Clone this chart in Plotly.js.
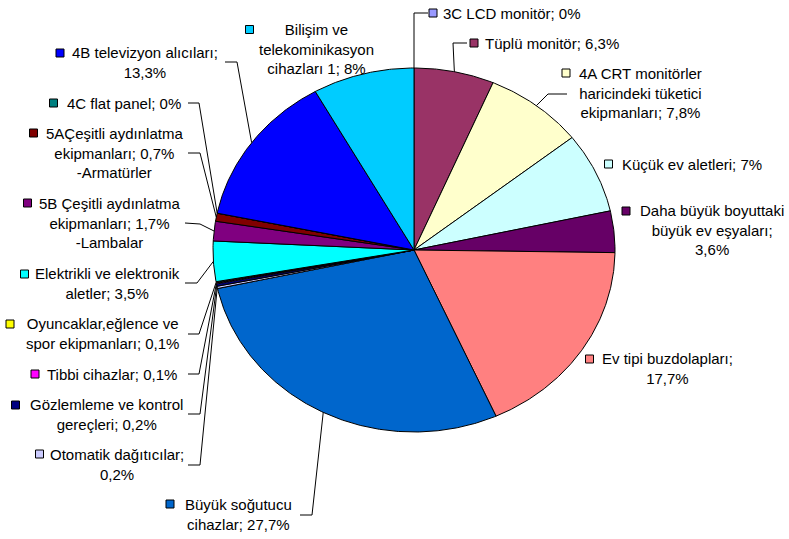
<!DOCTYPE html>
<html><head><meta charset="utf-8">
<script src="https://cdn.plot.ly/plotly-3.0.1.min.js"></script>
<style>html,body{margin:0;padding:0;background:#fff}</style>
</head><body><div id="chart" style="width:789px;height:539px"></div>
<script>
// ---- data ----
const categories = ["3C LCD monitör","Tüplü monitör","4A CRT monitörler haricindeki tüketici ekipmanları","Küçük ev aletleri","Daha büyük boyuttaki büyük ev eşyaları","Ev tipi buzdolapları","Büyük soğutucu cihazlar","Otomatik dağıtıcılar","Gözlemleme ve kontrol gereçleri","Tibbi cihazlar","Oyuncaklar,eğlence ve spor ekipmanları","Elektrikli ve elektronik aletler","5B Çeşitli aydınlatma ekipmanları -Lambalar","5AÇeşitli aydınlatma ekipmanları -Armatürler","4C flat panel","4B televizyon alıcıları","Bilişim ve telekominikasyon cihazları 1"];
const values = [0, 6.3, 7.8, 7, 3.6, 17.7, 27.7, 0.2, 0.2, 0.1, 0.1, 3.5, 1.7, 0.7, 0, 13.3, 8];
const labelTexts = [
  "3C LCD monitör; 0%",
  "Tüplü monitör; 6,3%",
  "4A CRT monitörler<br>haricindeki tüketici<br>ekipmanları; 7,8%",
  "Küçük ev aletleri; 7%",
  "Daha büyük boyuttaki<br>büyük ev eşyaları;<br>3,6%",
  "Ev tipi buzdolapları;<br>17,7%",
  "Büyük soğutucu<br>cihazlar; 27,7%",
  "Otomatik dağıtıcılar;<br>0,2%",
  "Gözlemleme ve kontrol<br>gereçleri; 0,2%",
  "Tibbi cihazlar; 0,1%",
  "Oyuncaklar,eğlence ve<br>spor ekipmanları; 0,1%",
  "Elektrikli ve elektronik<br>aletler; 3,5%",
  "5B Çeşitli aydınlatma<br>ekipmanları; 1,7%<br>-Lambalar",
  "5AÇeşitli aydınlatma<br>ekipmanları; 0,7%<br>-Armatürler",
  "4C flat panel; 0%",
  "4B televizyon alıcıları;<br>13,3%",
  "Bilişim ve<br>telekominikasyon<br>cihazları 1; 8%"
];
const colors = ["#9999FF","#993366","#FFFFCC","#CCFFFF","#660066","#FF8080","#0066CC","#CCCCFF","#000080","#FF00FF","#FFFF00","#00FFFF","#800080","#800000","#008080","#0000FF","#00CCFF"];

// ---- layout (positions in pixel space) ----
const W = 789, H = 539;
const cx = 414, cy = 250, rx = 201, ry = 182;
const textPos = [[512,13],[552,43],[640,93],[692,164],[712,230],[667,368.5],[238,514],[117,464],[106,414.5],[112,374],[102,333.5],[107,283.5],[110,222.5],[114,152.5],[124,103],[145,62],[316,49]];
const keyPos = [[433,13],[474,43],[566,73],[608.5,164],[626,211],[589.5,359],[170,504],[39.5,454],[15.5,405],[35,374],[10,324],[24.5,274],[27.5,203],[33.5,133],[53.5,103],[60,53],[249.5,29.5]];
const leaderElbows = [
  [[428,13],[414,13]],
  [[467,43],[453,43]],
  [[567,94],[548,94]],
  null, null, null,
  [[300,515],[312,515]],
  [[188,465],[200,465]],
  [[188,414],[200,414]],
  [[188,374],[199,374]],
  [[188,334],[199,334]],
  [[185,283],[197,283]],
  [[185,223],[200,224]],
  [[188,153],[200,153]],
  [[188,103],[199,103]],
  [[225,62],[237,62]],
  null
];

const total = values.reduce((a,b)=>a+b,0);
let cum = 0;
const traces = [];
const mids = [];
values.forEach((v,i)=>{
  const a0 = cum/total*2*Math.PI, a1 = (cum+v)/total*2*Math.PI;
  cum += v;
  mids.push((a0+a1)/2);
  const xs=[cx], ys=[cy];
  const n = Math.max(2, Math.ceil((a1-a0)/(Math.PI/360)));
  for(let k=0;k<=n;k++){
    const a=a0+(a1-a0)*k/n;
    xs.push(cx+rx*Math.sin(a)); ys.push(cy-ry*Math.cos(a));
  }
  xs.push(cx); ys.push(cy);
  traces.push({type:'scatter',mode:'lines',x:xs,y:ys,fill:'toself',fillcolor:colors[i],
    line:{color:'#000',width:1},hoverinfo:'text',text:categories[i]+'; '+v+'%',showlegend:false});
});

// leader lines
const lx=[], ly=[];
leaderElbows.forEach((pts,i)=>{
  if(!pts) return;
  pts.forEach(p=>{lx.push(p[0]); ly.push(p[1]);});
  lx.push(cx+rx*Math.sin(mids[i])); ly.push(cy-ry*Math.cos(mids[i]));
  lx.push(null); ly.push(null);
});
traces.push({type:'scatter',mode:'lines',x:lx,y:ly,line:{color:'#000',width:1},hoverinfo:'skip',showlegend:false});

const annotations = labelTexts.map((t,i)=>({
  text:t, x:textPos[i][0], y:textPos[i][1], xref:'x', yref:'y', showarrow:false,
  xanchor:'center', yanchor:'middle', align:'center',
  font:{family:'Liberation Sans, Arial, sans-serif', size:15, color:'#000'}
}));
const shapes = keyPos.map((p,i)=>({
  type:'rect', xref:'x', yref:'y', x0:p[0]-4, x1:p[0]+4, y0:p[1]-4, y1:p[1]+4,
  fillcolor:colors[i], line:{color:'#000',width:1}
}));

const layout = {
  width:W, height:H, margin:{l:0,r:0,t:0,b:0},
  paper_bgcolor:'#fff', plot_bgcolor:'#fff',
  xaxis:{range:[0,W],visible:false,fixedrange:true},
  yaxis:{range:[H,0],visible:false,fixedrange:true},
  annotations, shapes, showlegend:false
};
Plotly.newPlot('chart', traces, layout, {displayModeBar:false, staticPlot:true});
</script></body></html>
